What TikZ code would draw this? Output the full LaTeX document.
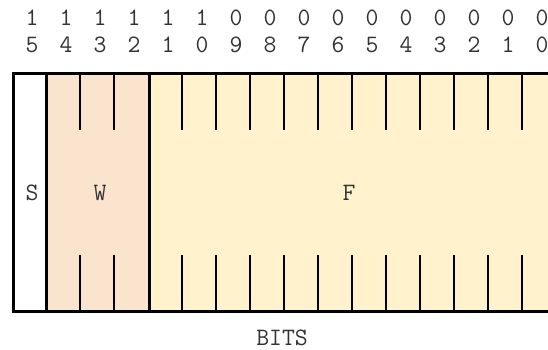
\documentclass[tikz,border=0pt]{standalone}
\definecolor{wfill}{HTML}{FBE4CE}
\definecolor{ffill}{HTML}{FFF2CC}
\definecolor{txt}{HTML}{333333}
\begin{document}
\begin{tikzpicture}[x=1pt,y=-1pt,
  lbl/.style={font=\ttfamily\fontsize{25}{25}\selectfont, text=txt, inner sep=0pt},
  field/.style={draw=black, line width=2.6pt, minimum height=238pt, inner sep=0pt, anchor=north west},
  tick/.style={draw=black, line width=2.6pt}]
\path[use as bounding box] (0,0) rectangle (548,349);
\clip (0,0) rectangle (548,349);
% fields
\node[field, fill=white, minimum width=33pt] (S) at (12,72) {};
\node[field, fill=wfill, minimum width=103pt] (W) at (45,72) {};
\node[field, fill=ffill, minimum width=408pt] (F) at (148,72) {};
\node[lbl] (Slbl) at (32,193) {S};
\node[lbl] (Wlbl) at (100,193) {W};
\node[lbl] (Flbl) at (349,193) {F};
% ticks
\foreach \k in {2,3,5,6,7,8,9,10,11,12,13,14,15} {
  \coordinate (tt\k) at ({12+34*\k},72);
  \coordinate (tb\k) at ({12+34*\k},130);
  \coordinate (bt\k) at ({12+34*\k},255);
  \coordinate (bb\k) at ({12+34*\k},310);
  \draw[tick] (tt\k) -- (tb\k);
  \draw[tick] (bt\k) -- (bb\k);
}
% bit labels
\foreach \k in {0,...,15} {
  \pgfmathtruncatemacro{\b}{15-\k}
  \pgfmathtruncatemacro{\hi}{int(\b/10)}
  \pgfmathtruncatemacro{\lo}{mod(\b,10)}
  \node[lbl] (hi\k) at ({32+34*\k},18) {\hi};
  \node[lbl] (lo\k) at ({32+34*\k},45) {\lo};
}
\node[lbl] (bits) at (282,338) {BITS};
\end{tikzpicture}
\end{document}
